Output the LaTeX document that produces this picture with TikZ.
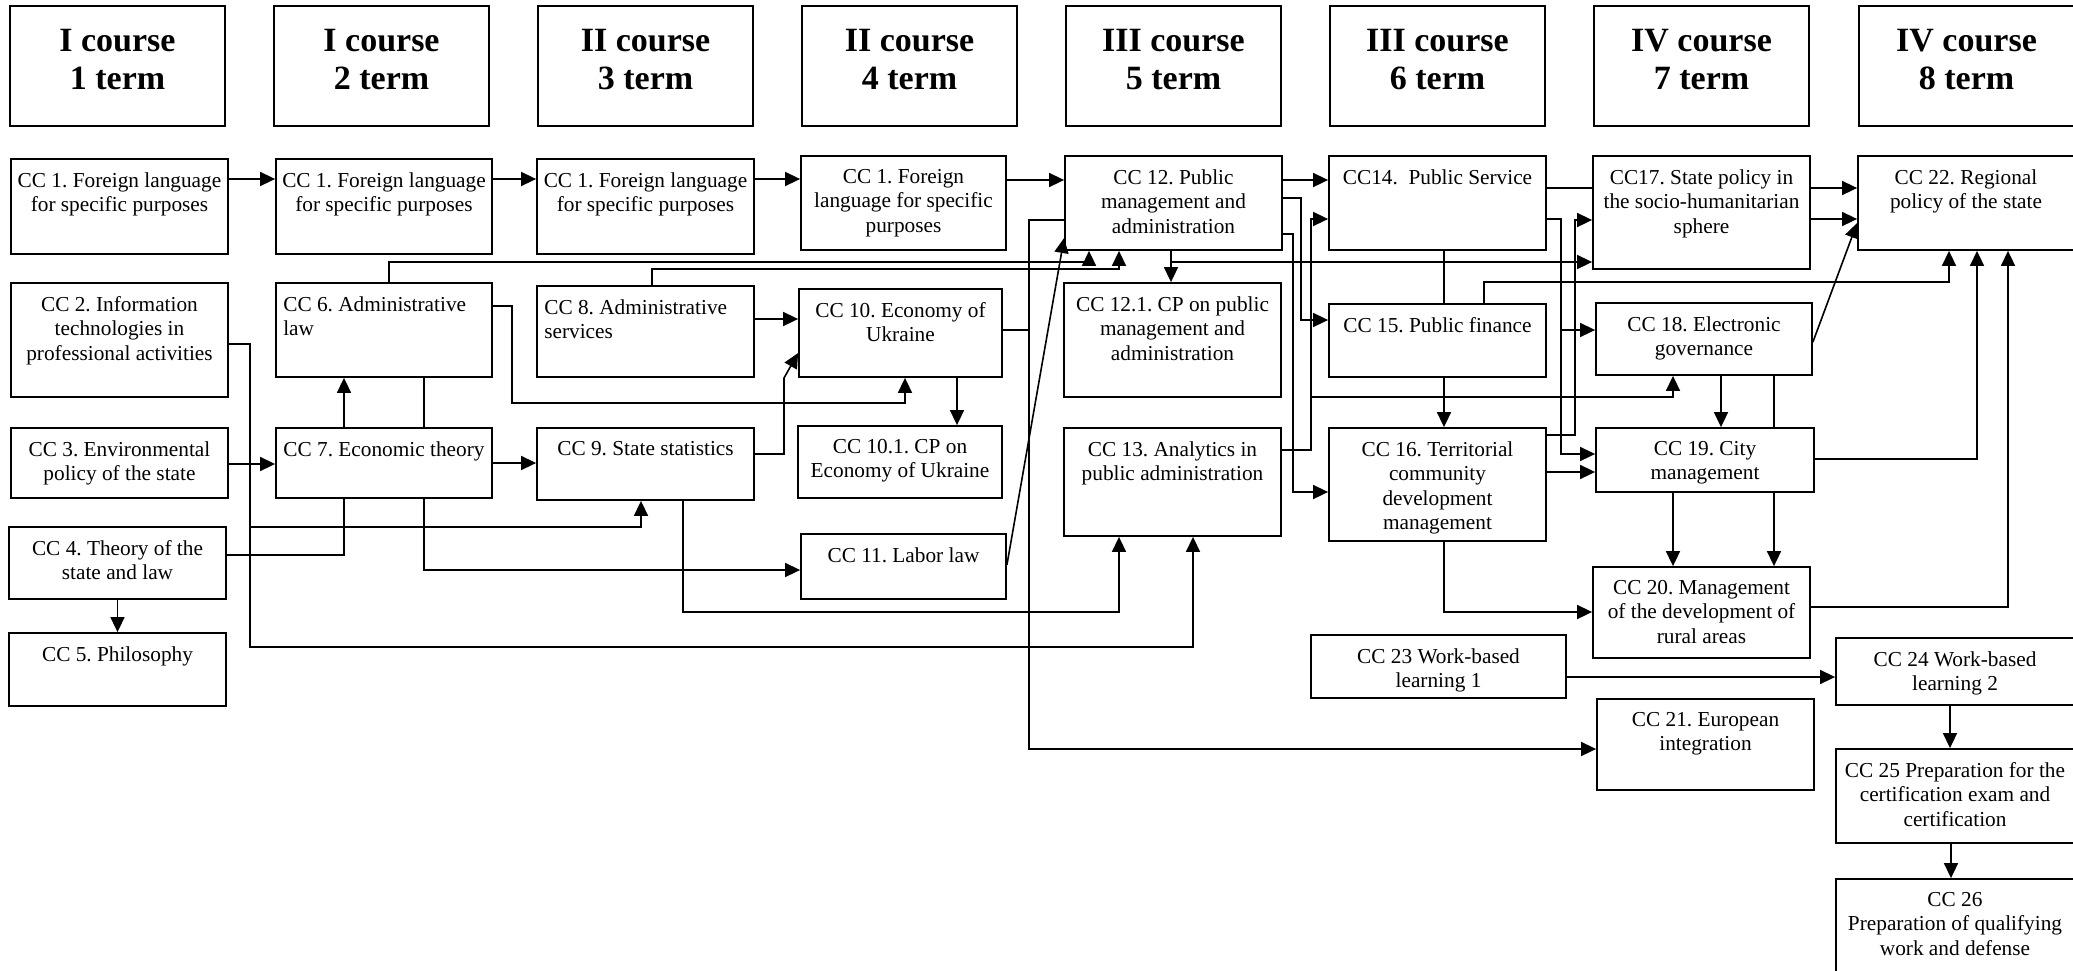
\documentclass[tikz,border=0pt]{standalone}
\usepackage{fontspec}
\setmainfont{Liberation Serif}
\usetikzlibrary{arrows.meta,fit}
\frenchspacing
\tikzset{
 bx/.style={draw, line width=1.8pt, inner sep=0pt},
 tx/.style={font=\fontsize{21.3}{24.5}\selectfont\frenchspacing, inner sep=0pt, align=center, anchor=north},
 ht/.style={font=\fontsize{34}{38}\selectfont\bfseries, inner sep=0pt, align=center, anchor=north},
 ln/.style={line width=1.6pt, line join=miter},
 ar/.style={ln, -{Triangle[length=15pt,width=14pt]}},
}
\newcommand\mybox[6]{\node[bx, fit={(#2,#3)(#4,#5)}] (#1) {};
 \node[tx] (#1-t) at ([yshift=-14pt]#1.north) {#6};}
\newcommand\myleftbox[6]{\node[bx, fit={(#2,#3)(#4,#5)}] (#1) {};
 \node[tx, anchor=north west, align=left] (#1-t) at ([xshift=8pt,yshift=-14pt]#1.north west) {#6};}
\newcommand\myhead[3]{\node[bx, fit={(#2,6)(#2+215,126)}] (#1) {};
 \node[ht] (#1-t) at ([yshift=-24pt]#1.north) {#3};}
\begin{document}
\begin{tikzpicture}[x=1pt,y=-1pt]
\useasboundingbox (0,0) rectangle (2073,970);
\clip (0,0) rectangle (2073,970);
% headers
\myhead{h1}{10}{I course\\1 term}
\myhead{h2}{274}{I course\\2 term}
\myhead{h3}{538}{II course\\3 term}
\myhead{h4}{802}{II course\\4 term}
\myhead{h5}{1066}{III course\\5 term}
\myhead{h6}{1330}{III course\\6 term}
\myhead{h7}{1594}{IV course\\7 term}
\myhead{h8}{1859}{IV course\\8 term}
% boxes
\mybox{a1}{11}{159}{228}{254}{CC 1. Foreign language\\for specific purposes}
\mybox{a2}{276}{159}{492}{254}{CC 1. Foreign language\\for specific purposes}
\mybox{a3}{537}{159}{754}{254}{CC 1. Foreign language\\for specific purposes}
\mybox{a4}{801}{156}{1006}{250}{CC 1. Foreign\\language for specific\\purposes}
\mybox{c12}{1065}{156}{1282}{250}{CC 12. Public\\management and\\administration}
\mybox{c14}{1329}{156}{1546}{250}{CC14.~ Public Service}
\mybox{c17}{1593}{156}{1810}{269}{CC17. State policy in\\the socio-humanitarian\\sphere}
\mybox{c22}{1858}{156}{2074}{250}{CC 22. Regional\\policy of the state}
\mybox{c2}{11}{283}{228}{397}{CC 2. Information\\technologies in\\professional activities}
\myleftbox{c6}{276}{283}{492}{377}{CC 6. Administrative\\law}
\myleftbox{c8}{537}{286}{754}{377}{CC 8. Administrative\\services}
\mybox{c10}{799}{289}{1002}{377}{CC 10. Economy of\\Ukraine}
\mybox{c121}{1064}{283}{1281}{397}{CC 12.1. CP on public\\management and\\administration}
\mybox{c15}{1329}{304}{1546}{377}{CC 15. Public finance}
\mybox{c18}{1596}{303}{1812}{375}{CC 18. Electronic\\governance}
\mybox{c3}{11}{428}{228}{498}{CC 3. Environmental\\policy of the state}
\mybox{c7}{276}{428}{492}{498}{CC 7. Economic theory}
\mybox{c9}{537}{428}{754}{500}{CC 9. State statistics}
\mybox{c101}{798}{426}{1002}{498}{CC 10.1. CP on\\Economy of Ukraine}
\mybox{c13}{1064}{428}{1281}{536}{CC 13. Analytics in\\public administration}
\mybox{c16}{1329}{428}{1546}{541}{CC 16. Territorial\\community\\development\\management}
\mybox{c19}{1596}{428}{1814}{492}{CC 19. City\\management}
\mybox{c4}{9}{527}{226}{599}{CC 4. Theory of the\\state and law}
\mybox{c11}{801}{534}{1006}{599}{CC 11. Labor law}
\mybox{c20}{1593}{567}{1810}{658}{CC 20. Management\\of the development of\\rural areas}
\mybox{c5}{9}{633}{226}{706}{CC 5. Philosophy}
\mybox{c23}{1311}{635}{1566}{698}{CC 23 Work-based\\learning 1}
\mybox{c24}{1836}{638}{2074}{705}{CC 24 Work-based\\learning 2}
\mybox{c21}{1597}{699}{1814}{790}{CC 21. European\\integration}
\mybox{c25}{1836}{749}{2074}{843}{CC 25 Preparation for the\\certification exam and\\certification}
\mybox{c26}{1836}{879}{2074}{990}{CC 26\\Preparation of qualifying\\work and defense}
% connectors
\draw[ar] (a1.east |- 0,179) -- (a2.west |- 0,179);
\draw[ar] (a2.east |- 0,179) -- (a3.west |- 0,179);
\draw[ar] (a3.east |- 0,179) -- (a4.west |- 0,179);
\draw[ar] (a4.east |- 0,180) -- (c12.west |- 0,180);
\draw[ar] (c12.east |- 0,180) -- (c14.west |- 0,180);
\draw[ar] (c3.east |- 0,464) -- (c7.west |- 0,464);
\draw[ar] (c7.east |- 0,463) -- (c9.west |- 0,463);
\draw[ar] (c4.south) -- (c5.north);
\draw[ar] (c7.north -| 344,0) -- (c6.south -| 344,0);
\draw[ln] (c6.south -| 424,0) -- (c7.north -| 424,0);
\draw[ar] (c6.north -| 389,0) |- (1089,262) -- (c12.south -| 1089,0);
\draw[ar] (c8.north -| 652,0) |- (1119,269) -- (c12.south -| 1119,0);
\draw[ar] (c12.south -| 1171,0) -- (c121.north -| 1171,0);
\draw[ar] (c12.south -| 1171,0) |- (c17.west |- 0,262);
\draw[ar] (c6.east |- 0,306) -| (512,403) -| (c10.south -| 905,0);
\draw[ar] (c8.east |- 0,319) -- (c10.west |- 0,319);
\draw[ar] (c10.south -| 957,0) -- (c101.north -| 957,0);
\draw[ar] (c9.east |- 0,454) -- (784,454) -- (784,378) -- (c10.west |- 0,353);
\draw[ln] (c10.east |- 0,330) -- (1029,330);
\draw[ar] (c12.west |- 0,220) -- (1029,220) |- (c21.west |- 0,749);
\draw[ar] (c11.east |- 0,565) -- (c12.west |- 0,238);
\draw[ar] (c2.east |- 0,344) -| (250,647) -| (c13.south -| 1193,0);
\draw[ar] (c2.east |- 0,344) -| (250,527) -| (c9.south -| 641,0);
\draw[ln] (c4.east |- 0,555) -| (c7.south -| 344,0);
\draw[ar] (c7.south -| 424,0) |- (c11.west |- 0,570);
\draw[ar] (c9.south -| 683,0) |- (1119,612) -- (c13.south -| 1119,0);
\draw[ar] (c12.east |- 0,198) -| (1301,320) -- (c15.west |- 0,320);
\draw[ar] (c12.east |- 0,234) -| (1293,492) -- (c16.west |- 0,492);
\draw[ar] (c13.east |- 0,450) -| (1311,219) -- (c14.west |- 0,219);
\draw[ar] (c13.east |- 0,450) -| (1311,397) -| (c18.south -| 1673,0);
\draw[ln] (c14.south -| 1444,0) -- (c15.north -| 1444,0);
\draw[ar] (c15.south -| 1444,0) -- (c16.north -| 1444,0);
\draw[ar] (c15.north -| 1484,0) |- (1949,282) -- (c22.south -| 1949,0);
\draw[ln] (c14.east |- 0,188) -- (c17.west |- 0,188);
\draw[ar] (c14.east |- 0,219) -| (1561,330) -- (c18.west |- 0,330);
\draw[ar] (c14.east |- 0,219) -| (1561,454) -- (c19.west |- 0,454);
\draw[ar] (c16.east |- 0,435) -| (1575,220) -- (c17.west |- 0,220);
\draw[ar] (c16.east |- 0,472) -- (c19.west |- 0,472);
\draw[ar] (c16.south -| 1444,0) |- (c20.west |- 0,612);
\draw[ar] (c17.east |- 0,188) -- (c22.west |- 0,188);
\draw[ar] (c17.east |- 0,219) -- (c22.west |- 0,219);
\draw[ar] (c18.east |- 0,342) -- (c22.west |- 0,223);
\draw[ar] (c18.south -| 1721,0) -- (c19.north -| 1721,0);
\draw[ln] (c18.south -| 1774,0) -- (c19.north -| 1774,0);
\draw[ar] (c19.south -| 1673,0) -- (c20.north -| 1673,0);
\draw[ar] (c19.south -| 1774,0) -- (c20.north -| 1774,0);
\draw[ar] (c19.east |- 0,459) -| (c22.south -| 1977,0);
\draw[ar] (c20.east |- 0,607) -| (c22.south -| 2008,0);
\draw[ar] (c23.east |- 0,677) -- (c24.west |- 0,677);
\draw[ar] (c24.south -| 1950,0) -- (c25.north -| 1950,0);
\draw[ar] (c25.south -| 1951,0) -- (c26.north -| 1951,0);
\end{tikzpicture}
\end{document}
